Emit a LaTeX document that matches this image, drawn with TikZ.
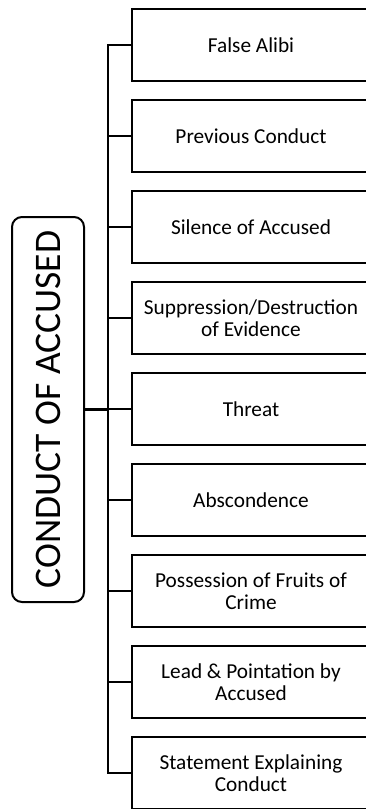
\documentclass[tikz,border=0pt]{standalone}
\usepackage{fontspec}
\setmainfont{Carlito}
\begin{document}
\begin{tikzpicture}[x=1pt,y=-1pt,
  item/.style={draw, line width=2.2pt, minimum width=238pt, minimum height=72pt,
    inner sep=0pt, align=center, font=\fontsize{21.3}{22}\selectfont},
  root/.style={draw, line width=2pt, rounded corners=10pt, minimum width=385pt,
    minimum height=72pt, inner sep=0pt, rotate=90, font=\fontsize{37.5}{40}\selectfont},
  link/.style={line width=2.4pt}]
\useasboundingbox (0,0) rectangle (365,809);

% central category, text reading upwards
\node[root] (root) at (48,409.5) {CONDUCT OF ACCUSED};

% the nine kinds of conduct (boxes run past the right edge of the page)
\node[item] (b1) at (251,45)  {False Alibi};
\node[item] (b2) at (251,136) {Previous Conduct};
\node[item] (b3) at (251,227) {Silence of Accused};
\node[item] (b4) at (251,318) {Suppression/Destruction\\of Evidence};
\node[item] (b5) at (251,409) {Threat};
\node[item] (b6) at (251,500) {Abscondence};
\node[item] (b7) at (251,591) {Possession of Fruits of\\Crime};
\node[item] (b8) at (251,682) {Lead \& Pointation by\\Accused};
\node[item] (b9) at (251,773) {Statement Explaining\\Conduct};

% bracket: trunk with a stub to every box
\coordinate (trunk) at (108,45);
\draw[link] (b1.west) -- (b1.west -| trunk) |- (b9.west);
\foreach \b in {b2,b3,b4,b5,b6,b7,b8}
  \draw[link] (\b.west) -- (\b.west -| trunk);
\draw[link] (root.south) -- (root.south -| trunk);
\end{tikzpicture}
\end{document}
